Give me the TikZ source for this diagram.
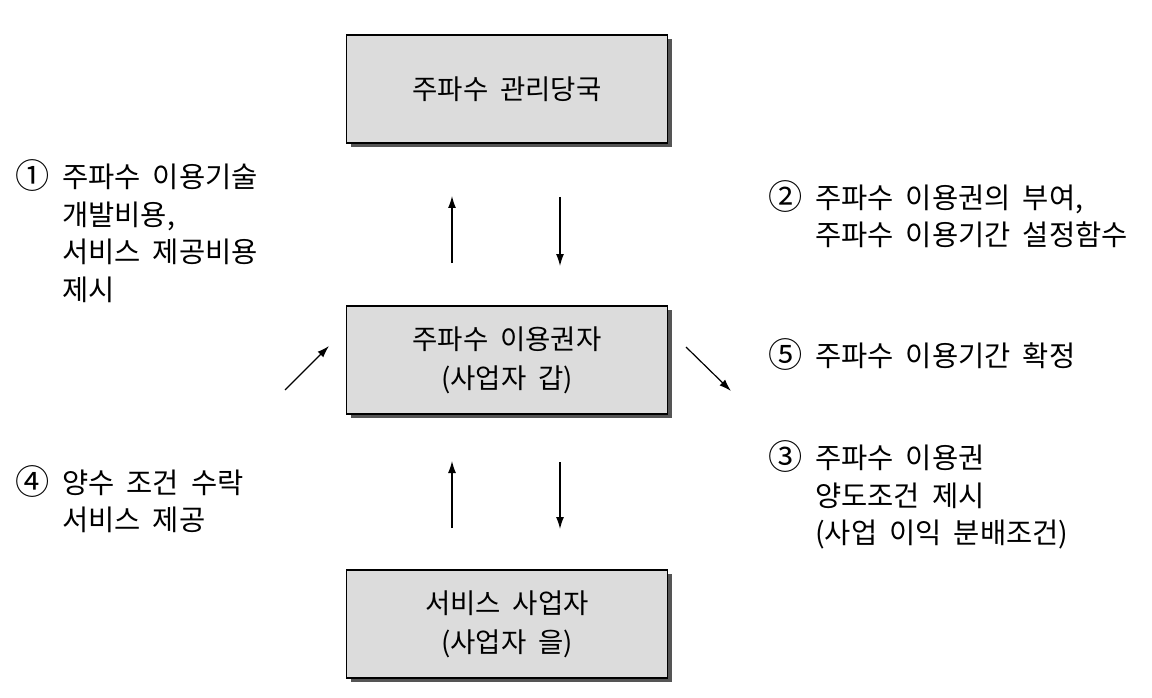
\documentclass[tikz,border=0pt]{standalone}
\usepackage{fontspec}
\usepackage{graphicx}
\newfontfamily\kr[WordSpace=1.9]{Noto Sans CJK KR}
\usetikzlibrary{arrows.meta,shadows}
\definecolor{boxgray}{RGB}{220,220,220}
\definecolor{shadowgray}{RGB}{85,85,85}
\tikzset{
  mainbox/.style={draw=black, line width=1.3pt, fill=boxgray, minimum width=321pt, minimum height=108pt,
    align=center, font=\kr\fontsize{27.5}{39}\selectfont, inner sep=0pt,
    drop shadow={shadow xshift=4pt, shadow yshift=-4pt, fill=shadowgray, opacity=1}},
  label/.style={align=left, anchor=west, font=\kr\fontsize{28.5}{37.5}\selectfont, inner sep=0pt},
  arr/.style={line width=1.2pt, -{Latex[length=12pt,width=8pt]}}
}
\newcommand{\num}[1]{\makebox[47pt][l]{\raisebox{-1pt}{\scalebox{1.2}{#1}}}}
\newcommand{\ind}{\hspace*{47pt}}
\begin{document}
\begin{tikzpicture}[x=1pt,y=-1pt]
\useasboundingbox (0,0) rectangle (1152,698);
\node[mainbox] (b1) at (507,89) {주파수 관리당국};
\node[mainbox] (b2) at (507,360) {주파수 이용권자\\(사업자 갑)};
\node[mainbox] (b3) at (507,624) {서비스 사업자\\(사업자 을)};

\node[label] (t1) at (15,231) {\num{①}주파수 이용기술\\\ind 개발비용,\\\ind 서비스 제공비용\\\ind 제시};
\node[label] (t2) at (768,214) {\num{②}주파수 이용권의 부여,\\\ind 주파수 이용기간 설정함수};
\node[label] (t5) at (768,355) {\num{⑤}주파수 이용기간 확정};
\node[label] (t3) at (768,495) {\num{③}주파수 이용권\\\ind 양도조건 제시\\\ind (사업 이익 분배조건)};
\node[label] (t4) at (15,499) {\num{④}양수 조건 수락\\\ind 서비스 제공};

\coordinate (a1s) at (452,263); \coordinate (a1e) at (452,196);
\coordinate (a2s) at (560,197); \coordinate (a2e) at (560,266);
\coordinate (a3s) at (452,528); \coordinate (a3e) at (452,461);
\coordinate (a4s) at (560,462); \coordinate (a4e) at (560,529);
\coordinate (a5s) at (285,390); \coordinate (a5e) at (329,346);
\coordinate (a6s) at (686,347); \coordinate (a6e) at (731,391);
\draw[arr] (a1s) -- (a1e);
\draw[arr] (a2s) -- (a2e);
\draw[arr] (a3s) -- (a3e);
\draw[arr] (a4s) -- (a4e);
\draw[arr] (a5s) -- (a5e);
\draw[arr] (a6s) -- (a6e);
\end{tikzpicture}
\end{document}
